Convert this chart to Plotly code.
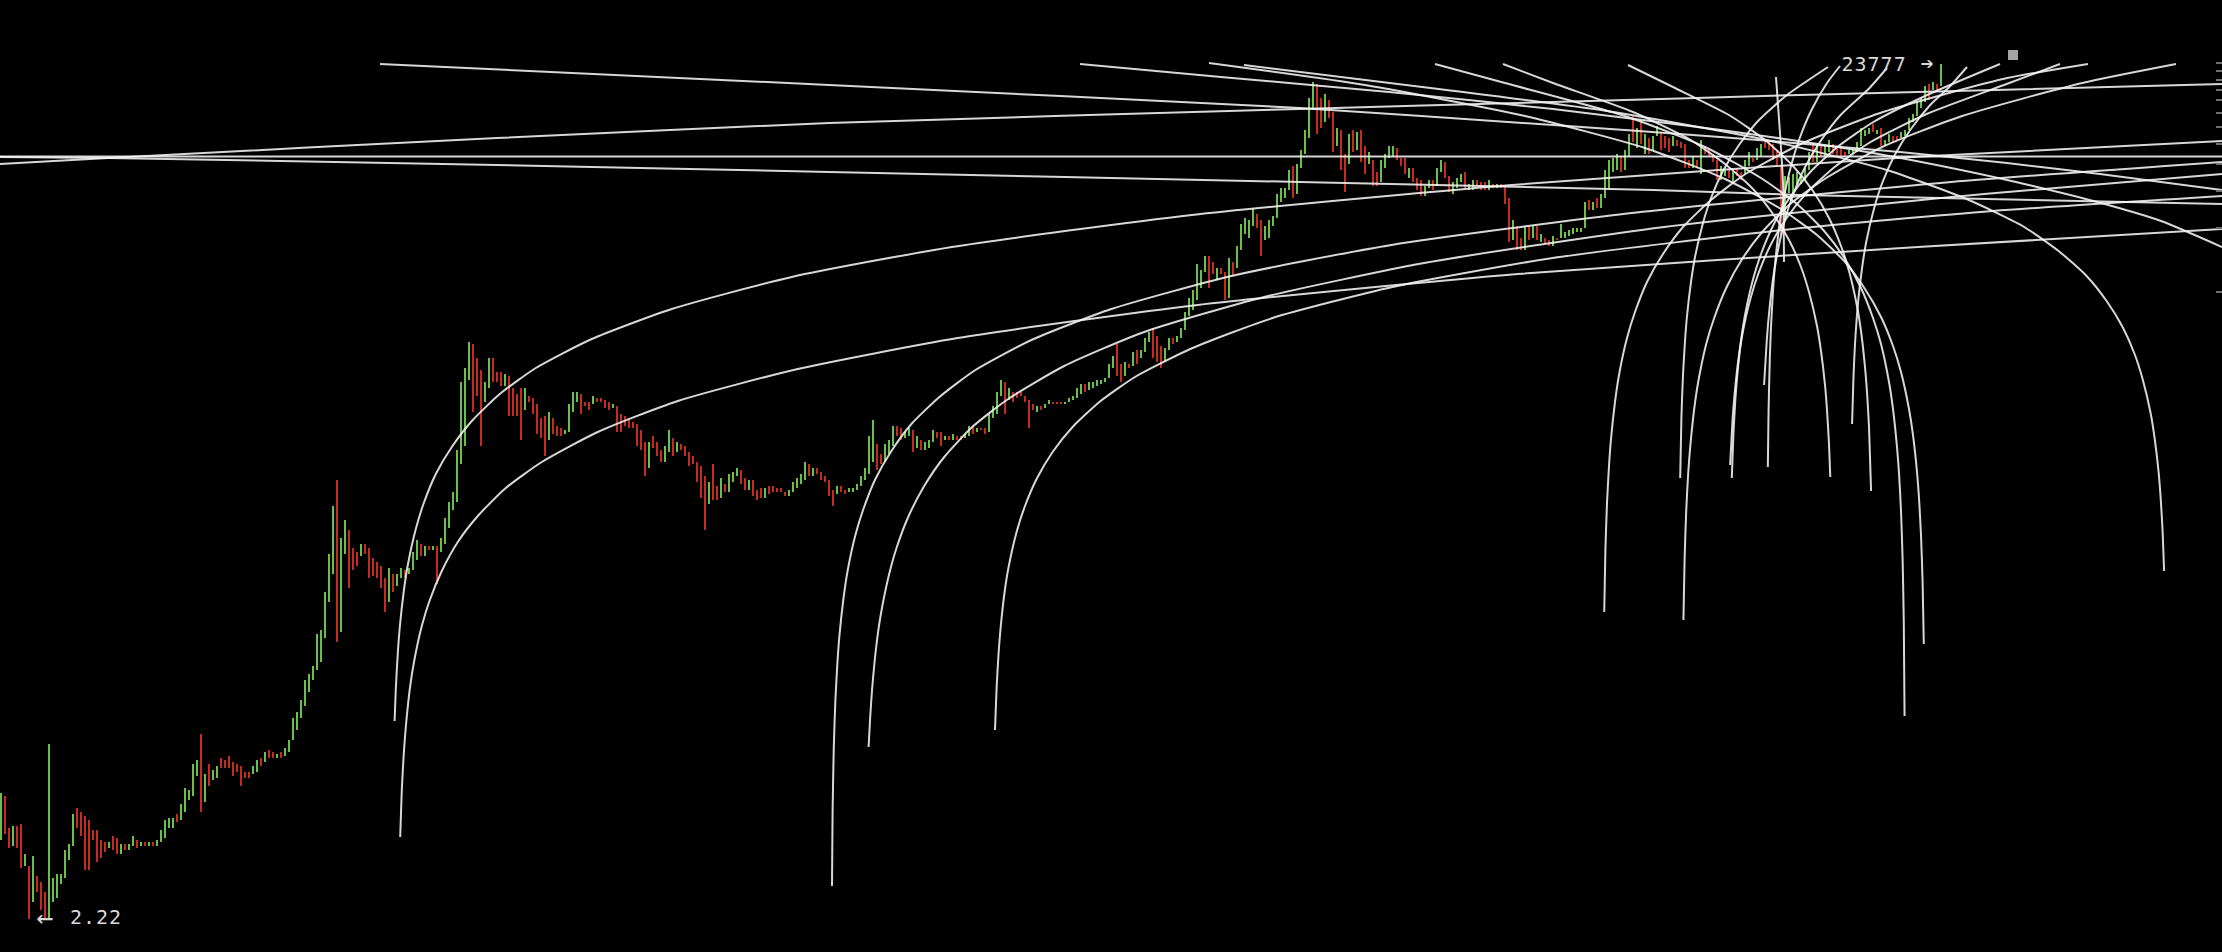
import math
import plotly.graph_objects as go

# Bars are read on the chart's log scale: "steps" above the 2.22 low,
# one step = 1/212.2 of a price decade (about 1.09 %). price = 2.22 * 10 ** (steps / 212.2)
LOW_PRICE = 2.22
HIGH_PRICE = 23777
STEPS_PER_DECADE = 212.2

bar_high = [
126,123,91,93,93,95,65,53,63,43, 37,27,175,41,45,45,69,75,105,111,
107,103,99,89,89,79,77,77,83,81, 75,75,75,83,79,77,77,77,77,79,
89,99,101,101,105,115,131,129,155,159, 185,145,155,149,153,161,159,163,157,155,
153,147,147,153,159,161,167,169,167,165, 167,171,179,201,207,219,239,245,253,285,
289,327,365,413,439,381,399,389,371,367, 375,375,371,361,357,353,341,351,345,345,
351,349,351,367,379,375,373,373,373,373, 381,401,417,427,469,537,551,577,575,561,
549,537,561,561,547,547,545,543,531,525, 531,531,523,521,515,501,503,507,501,493,
491,489,515,527,527,525,517,517,523,521, 521,519,517,515,513,505,503,499,497,495,
489,477,477,483,477,469,473,489,481,477, 475,473,467,463,457,453,443,437,455,433,
441,435,445,447,451,449,441,439,439,429, 431,431,433,433,431,431,427,429,437,441,
445,457,455,451,451,447,443,439,429,433, 433,429,431,431,435,443,451,483,499,475,
465,475,479,493,493,491,487,491,489,483, 479,477,479,489,487,487,483,483,485,483,
483,485,493,493,491,491,491,505,513,527, 539,537,531,527,527,527,523,519,515,513,
513,515,519,517,517,517,517,521,523,531, 535,535,537,537,539,539,541,555,563,575,
555,557,555,567,569,569,581,587,591,583, 573,571,581,581,583,591,607,621,629,655,
649,663,663,657,651,651,647,661,657,673, 695,701,699,711,705,699,693,699,703,725,
731,731,749,753,755,769,789,821,837,835, 821,825,819,807,791,789,765,785,789,787,
789,773,767,759,747,759,765,773,773,771, 761,761,751,751,741,739,733,739,739,751,
759,757,743,737,741,745,747,735,739,739, 737,737,739,735,735,735,733,721,699,693,
681,693,693,693,693,685,681,679,683,681, 695,687,689,691,691,691,717,719,717,721,
725,749,759,761,765,763,769,785,803,791, 799,785,781,783,793,787,783,781,783,779,
777,775,759,763,759,779,773,771,765,759, 753,749,749,747,751,747,759,767,761,771,
775,779,777,775,769,754,743,742,745,747, 743,751,767,775,773,774,773,779,775,771,
771,767,769,769,777,791,789,791,795,789, 791,779,785,783,783,787,789,801,805,817,
821,833,835,837,835,855,
]

bar_low = [
79,85,71,73,71,51,53,0,17,27, 9,1,1,17,21,35,41,59,73,91,
83,49,49,79,57,61,67,71,69,65, 65,69,69,73,71,73,73,73,73,73,
77,81,91,91,97,99,107,119,123,143, 107,117,133,139,141,151,151,151,143,147,
133,141,141,145,147,153,157,161,161,161, 161,163,167,179,189,201,213,227,239,249,
257,281,317,345,277,287,365,331,349,353, 363,365,341,343,341,331,307,317,327,333,
341,341,345,349,359,363,363,369,369,335, 367,375,391,409,417,455,473,539,507,523,
473,517,531,537,537,533,533,503,503,503, 479,509,517,505,485,481,463,479,485,483,
483,485,487,507,517,505,513,509,515,517, 517,511,509,511,487,487,493,491,491,473,
469,443,451,471,463,457,457,467,463,467, 469,463,453,455,437,421,389,415,419,419,
421,427,427,437,443,435,429,429,423,419, 421,421,425,427,427,427,423,423,427,431,
435,439,443,443,445,439,437,423,413,425, 427,425,427,427,429,433,439,445,457,449,
455,457,465,473,483,479,481,483,467,471, 469,469,471,477,481,473,479,479,479,479,
479,481,483,485,487,489,485,487,501,505, 523,505,519,517,521,523,517,491,509,507,
509,511,515,515,515,515,515,517,519,521, 525,527,529,531,533,535,537,541,551,543,
537,543,551,553,555,561,567,577,561,557, 551,557,569,575,577,581,589,603,609,619,
631,647,631,645,639,645,619,621,643,651, 669,685,681,693,691,663,679,681,693,701,
717,721,729,721,725,751,765,781,809,785, 791,797,801,767,773,749,727,755,767,769,
757,745,755,733,733,737,751,761,763,759, 753,745,741,737,729,723,723,731,729,733,
747,741,727,725,731,737,731,729,729,733, 729,729,729,731,731,731,715,677,679,669,
669,669,679,681,679,677,675,673,673,679, 681,681,683,685,687,687,691,709,709,711,
711,721,731,747,749,747,749,763,777,771, 775,765,765,769,783,769,771,767,773,773,
771,751,751,751,751,745,765,763,757,739, 739,743,741,735,743,739,745,753,757,759,
763,771,769,759,753,684,699,726,725,735, 735,739,749,757,757,763,763,767,765,763,
763,763,765,765,767,773,783,785,787,785, 773,773,777,777,779,781,783,789,797,803,
811,817,819,829,827,833,
]

bar_up = [
1,0,0,1,0,0,1,0,1,0, 0,0,1,1,1,1,1,1,1,0,
0,0,0,0,0,0,0,1,0,0, 1,0,1,1,0,1,0,1,0,1,
1,1,1,1,0,1,1,1,1,1, 0,1,0,1,1,0,0,0,0,0,
0,0,0,1,1,0,1,0,0,1, 0,1,1,1,1,1,1,1,1,1,
1,1,1,1,0,1,1,0,0,0, 1,0,0,0,0,0,0,1,0,1,
1,0,1,1,1,0,1,0,1,0, 1,1,1,1,1,1,1,1,0,0,
0,1,1,0,0,0,1,0,0,0, 0,1,0,0,0,0,0,1,0,0,
0,1,1,1,1,0,0,0,1,0, 0,0,0,1,0,0,0,0,0,0,
0,0,1,0,0,0,1,1,0,1, 0,0,0,0,0,0,0,1,0,0,
1,0,1,1,1,0,0,1,0,0, 0,1,0,0,0,0,0,1,1,1,
1,1,0,1,0,0,0,0,0,1, 0,0,1,1,1,1,1,1,1,0,
0,1,1,1,0,0,1,1,0,1, 0,1,1,1,0,0,1,0,1,0,
0,1,1,0,1,0,0,1,1,1, 1,0,1,0,0,0,0,0,0,1,
0,1,1,0,0,0,1,1,1,1, 1,0,1,1,1,1,1,1,1,0,
0,1,0,1,0,1,1,1,0,0, 0,1,1,0,1,1,1,1,1,1,
1,1,0,0,1,0,0,1,0,1, 1,1,1,1,0,0,1,1,1,1,
1,1,1,0,1,1,1,1,1,0, 0,1,0,0,1,0,0,1,0,1,
0,0,1,0,0,1,1,1,1,0, 0,0,1,0,0,0,1,1,0,1,
1,0,0,1,1,1,0,1,1,0, 0,0,1,0,1,0,0,0,1,0,
0,1,0,1,0,1,0,0,1,0, 1,1,1,1,1,1,1,0,1,0,
1,1,1,1,1,0,1,1,0,1, 0,1,0,1,1,0,0,0,1,0,
0,0,0,1,0,1,0,0,0,0, 1,1,0,1,0,0,1,1,0,1,
1,0,0,0,0,0,1,1,1,1, 1,1,1,0,1,0,1,1,0,0,
0,0,1,1,1,1,1,1,0,1, 0,1,1,0,0,1,1,1,1,1,
1,1,0,1,0,1,
]

# Curves: x in bar index, y in the same log steps as the bars.
flat_x = [-0.25, 555.25]
flat_y = [762.5, 762.5]
rise_x = [-0.25, 26.75, 124, 207, 324.75, 388, 449.75, 555.25]
rise_y = [755, 761, 781, 796, 810, 817, 824, 835]
slide_x = [-0.25, 26.75, 124, 207, 324.75, 413, 449.75, 555.25]
slide_y = [762, 761, 754, 747, 737, 729, 724, 715]

fall1_x = [94.75, 207, 324.75, 388, 429.75, 474.75, 501.5, 524.75, 555.25]
fall1_y = [855, 834, 811, 794, 782, 767, 756, 745, 729]
fall2_x = [269.75, 305, 347, 388, 430, 466.5, 490, 508, 525, 540, 555.25]
fall2_y = [855, 842, 827, 810, 789, 767, 749, 733, 716, 698, 672]
fall3_x = [480.7, 480.4, 480, 479.5, 479, 478, 477, 475, 473, 470, 466, 461, 454, 445, 431, 411, 381, 341, 302]
fall3_y = [275, 337, 384, 421, 447, 484, 510, 547, 573, 602, 630, 657, 684, 710, 740, 771, 803, 834, 856]
fall4_x = [540.78, 540.4, 539.9, 539.4, 538.4, 537.4, 535.4, 533.4, 530.4, 526.4, 521.4, 514.4, 505.4, 491.4, 471.4, 441.4, 401.4, 361.4, 310.75]
fall4_y = [348, 388, 422, 447, 481, 506, 540, 565, 592, 618, 643, 668, 693, 720, 749, 779, 808, 829, 854]
fall5_x = [475.89, 475.7, 475.4, 475, 474.5, 474, 473, 472, 470, 468, 465, 461, 456, 449, 440, 426, 406, 376, 358.5]
fall5_y = [203, 296, 360, 408, 446, 472, 510, 537, 575, 601, 631, 660, 687, 715, 741, 772, 803, 836, 855]
fall6_x = [457.32, 457, 456.5, 456, 455, 454, 452, 450, 447, 443, 438, 431, 422, 408, 388, 375.5]
fall6_y = [442, 475, 509, 534, 568, 593, 627, 652, 679, 705, 730, 755, 780, 807, 836, 855]
fall7_x = [467.52, 467, 466.5, 466, 465, 464, 462, 460, 457, 453, 448, 441, 432, 418, 406.75]
fall7_y = [428, 492, 527, 552, 588, 613, 648, 673, 701, 728, 753, 779, 804, 832, 854]
fall8_x = [443.75, 444.75, 445.5, 445.75]
fall8_y = [842, 786, 736, 657]

arc_a_x = [98.4, 98.7, 99.2, 99.7, 100.7, 101.7, 103.7, 105.7, 108.7, 112.7, 117.7, 124.7, 133.7, 147.7, 167.7, 197.7, 237.7, 297.7, 377.7, 477.7, 555.25]
arc_a_y = [198, 230, 266, 292, 328, 354, 390, 416, 445, 472, 498, 525, 551, 580, 610, 642, 672, 704, 734, 762, 778]
arc_b_x = [99.8, 100.2, 100.7, 101.2, 102.2, 103.2, 105.2, 107.2, 110.2, 114.2, 119.2, 126.2, 135.2, 149.2, 169.2, 199.2, 239.2, 299.2, 379.2, 479.2, 555.25]
arc_b_y = [82, 129, 166, 192, 230, 256, 293, 319, 348, 377, 403, 431, 457, 487, 518, 550, 581, 614, 645, 672, 690]
arc_c_x = [207.75, 207.9, 208.2, 208.6, 209.1, 209.6, 210.6, 211.6, 213.6, 215.6, 218.6, 222.6, 227.6, 234.6, 243.6, 257.6, 277.6, 307.6, 347.6, 407.6, 487.6, 555.25]
arc_c_y = [33, 108, 172, 219, 256, 283, 320, 347, 384, 410, 440, 468, 495, 522, 549, 579, 610, 643, 674, 706, 737, 757]
arc_d_x = [216.9, 217.3, 217.8, 218.8, 219.8, 221.8, 223.8, 226.8, 230.8, 235.8, 242.8, 251.8, 265.8, 285.8, 315.8, 355.8, 415.8, 495.8, 555.25]
arc_d_y = [172, 202, 231, 272, 301, 341, 370, 402, 433, 462, 492, 520, 553, 587, 622, 656, 692, 725, 745]
arc_e_x = [248.5, 248.9, 249.4, 249.9, 250.9, 251.9, 253.9, 255.9, 258.9, 262.9, 267.9, 274.9, 283.9, 297.9, 317.9, 347.9, 387.9, 447.9, 497.9, 555.25]
arc_e_y = [189, 231, 266, 291, 327, 352, 387, 412, 440, 467, 492, 518, 543, 571, 601, 632, 661, 690, 708, 723]

climb1_x = [400.81, 401.1, 401.5, 402, 402.5, 403.5, 404.5, 406.5, 408.5, 411.5, 415.5, 420.5, 427.5, 436.5, 450.5, 470.5, 500.5, 521.75]
climb1_y = [307, 369, 416, 453, 480, 517, 544, 581, 607, 637, 665, 692, 719, 746, 776, 807, 840, 855]
climb2_x = [419.8, 420.1, 420.5, 421, 421.5, 422.5, 423.5, 425.5, 427.5, 430.5, 434.5, 439.5, 446.5, 456.75]
climb2_y = [441, 501, 544, 578, 603, 637, 662, 696, 721, 748, 774, 799, 824, 852]
climb3_x = [420.61, 420.9, 421.3, 421.8, 422.3, 423.3, 424.3, 426.3, 428.3, 431.3, 435.3, 440.3, 447.3, 456.3, 470.3, 490.3, 520.3, 543.75]
climb3_y = [299, 360, 408, 446, 472, 510, 537, 575, 601, 631, 660, 687, 715, 741, 772, 803, 836, 855]
climb4_x = [432.7, 433.1, 433.6, 434.1, 435.1, 436.1, 438.1, 440.1, 443.1, 447.1, 452.1, 459.1, 468.1, 482.1, 499.75]
climb4_y = [441, 485, 520, 545, 581, 606, 641, 666, 694, 721, 746, 772, 797, 825, 855]
climb5_x = [432.28, 432.9, 433.4, 434.4, 435.4, 437.4, 439.4, 442.4, 446.4, 451.4, 458.4, 467.4, 481.4, 501.4, 514.75]
climb5_y = [454, 500, 525, 561, 586, 621, 646, 674, 701, 726, 752, 777, 805, 835, 855]
climb6_x = [441.71, 441.9, 442.2, 442.5, 443, 443.5, 444.5, 445.5, 447.5, 449.5, 452.5, 456.5, 459.75]
climb6_y = [452, 510, 560, 592, 628, 654, 691, 717, 753, 779, 808, 836, 853]
climb7_x = [440.77, 441.4, 441.9, 442.9, 443.9, 445.9, 447.9, 450.9, 454.9, 459.9, 466.9, 471.5]
climb7_y = [534, 576, 601, 637, 662, 698, 723, 751, 778, 804, 830, 851]
climb8_x = [462.77, 463.1, 463.5, 464.3, 465.3, 466.3, 468.3, 470.3, 473.3, 477.3, 482.3, 487.3, 491.5]
climb8_y = [495, 540, 575, 618, 652, 677, 711, 736, 763, 789, 814, 833, 852]

curves = [
    (flat_x, flat_y), (rise_x, rise_y), (slide_x, slide_y),
    (fall1_x, fall1_y), (fall2_x, fall2_y), (fall3_x, fall3_y), (fall4_x, fall4_y),
    (fall5_x, fall5_y), (fall6_x, fall6_y), (fall7_x, fall7_y), (fall8_x, fall8_y),
    (arc_a_x, arc_a_y), (arc_b_x, arc_b_y), (arc_c_x, arc_c_y), (arc_d_x, arc_d_y), (arc_e_x, arc_e_y),
    (climb1_x, climb1_y), (climb2_x, climb2_y), (climb3_x, climb3_y), (climb4_x, climb4_y),
    (climb5_x, climb5_y), (climb6_x, climb6_y), (climb7_x, climb7_y), (climb8_x, climb8_y),
]

marker_x = [503]
marker_y = [864]

y_ticks = [2000, 4000, 6000, 8000, 10000, 12000, 14000, 16000, 18000, 20000, 22000, 24000]

assert len(bar_high) == len(bar_low) == len(bar_up), (len(bar_high), len(bar_low), len(bar_up))
for cx, cy in curves:
    assert len(cx) == len(cy), (cx, cy)


def price(step):
    return LOW_PRICE * 10 ** (step / STEPS_PER_DECADE)


fig = go.Figure()

for flag, colour in ((1, "#6cbf4a"), (0, "#c42c21")):
    xs, ys = [], []
    for i, (hi, lo, up) in enumerate(zip(bar_high, bar_low, bar_up)):
        if up == flag:
            xs += [i, i, None]
            ys += [price(lo), price(hi), None]
    fig.add_trace(go.Scatter(x=xs, y=ys, mode="lines", hoverinfo="skip",
                             line=dict(color=colour, width=2, simplify=False)))

for cx, cy in curves:
    fig.add_trace(go.Scatter(x=cx, y=[price(v) for v in cy], mode="lines", hoverinfo="skip",
                             line=dict(color="rgba(245,245,245,0.88)", width=2,
                                       shape="spline", smoothing=0.6)))

fig.add_trace(go.Scatter(x=marker_x, y=[price(v) for v in marker_y], mode="markers", hoverinfo="skip",
                         marker=dict(symbol="square", size=10, color="#a3a3a3")))

label_font = dict(family="DejaVu Sans Mono", size=20, color="#d8d8d8")
arrow_y = math.log10(price(2))
top_y = math.log10(HIGH_PRICE)
fig.add_annotation(x=11, y=arrow_y, text="←", showarrow=False, xanchor="center", yanchor="middle",
                   font=dict(family="DejaVu Sans Mono", size=28, color="#d8d8d8"))
fig.add_annotation(x=17.2, y=arrow_y, text=f"{LOW_PRICE}", showarrow=False, xanchor="left", yanchor="middle",
                   font=label_font)
fig.add_annotation(x=460.2, y=top_y, text=f"{HIGH_PRICE}", showarrow=False, xanchor="left", yanchor="middle",
                   font=label_font)
fig.add_annotation(x=481.7, y=top_y, text="➔", showarrow=False, xanchor="center", yanchor="middle",
                   font=dict(family="DejaVu Sans", size=16, color="#d8d8d8"))

fig.update_layout(
    width=2222, height=952,
    margin=dict(l=0, r=0, t=0, b=0, pad=0),
    paper_bgcolor="black", plot_bgcolor="black",
    showlegend=False,
    xaxis=dict(visible=False, range=[-0.25, 555.25], fixedrange=True),
    yaxis=dict(
        type="log", side="right",
        range=[math.log10(LOW_PRICE) - 33 / STEPS_PER_DECADE,
               math.log10(LOW_PRICE) + 919 / STEPS_PER_DECADE],
        tickmode="array", tickvals=y_ticks, showticklabels=False,
        ticks="inside", ticklen=6, tickwidth=1.5, tickcolor="#6f6f6f",
        showgrid=False, zeroline=False, showline=False, fixedrange=True,
    ),
)

fig.write_html(
    "out.html",
    config={"displayModeBar": False},
    post_script=(
        "document.body.style.margin='0';document.body.style.background='black';"
        "document.querySelectorAll('.annotation-text').forEach(function(t){t.style.letterSpacing='1px';});"
    ),
)
